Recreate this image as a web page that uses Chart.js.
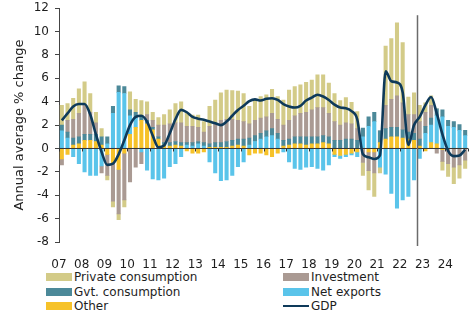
<!DOCTYPE html>
<html lang="en">
<head>
<meta charset="UTF-8">
<title>Contributions to GDP growth</title>
<script src="https://cdn.jsdelivr.net/npm/chart.js@4"></script>
<style>
  body { margin: 0; background: #fff; font-family: "DejaVu Sans", sans-serif; }
  #wrap { position: relative; width: 474px; height: 325px; overflow: hidden; }
  #box { position: absolute; left: 0; top: -5px; width: 474px; height: 273px; }
  .item { position: absolute; display: flex; align-items: center; height: 14px; font-size: 12px; color: #1e1e1e; white-space: nowrap; }
  .sw { width: 26px; height: 8px; margin-right: 2px; }
  .ln { width: 26px; height: 2px; margin-right: 2px; }
</style>
</head>
<body>
<div id="wrap">
  <div id="box"><canvas id="gdpChart"></canvas></div>
  <!-- legend, two columns like the original -->
  <div class="item" style="left:46px;top:270px"><span class="sw" style="background:#d3cb88"></span>Private consumption</div>
  <div class="item" style="left:283px;top:270px"><span class="sw" style="background:#aa9a93"></span>Investment</div>
  <div class="item" style="left:46px;top:285px"><span class="sw" style="background:#4c8999"></span>Gvt. consumption</div>
  <div class="item" style="left:283px;top:285px"><span class="sw" style="background:#5ac4ea"></span>Net exports</div>
  <div class="item" style="left:46px;top:299px"><span class="sw" style="background:#f6c229"></span>Other</div>
  <div class="item" style="left:283px;top:299px"><span class="ln" style="background:#0e3a5a"></span>GDP</div>
</div>

<script>
// years on the axis, one label per Q1
const years = ['07','08','09','10','11','12','13','14','15','16','17','18','19','20','21','22','23','24'];
const quarters = [];
years.forEach(y => { for (let q = 1; q <= 4; q++) quarters.push(y + 'Q' + q); });

// contributions, % points (2007Q1 .. 2024Q4)
const other = [-0.9,-0.5,0.3,0.4, 0.7,0.7,0.6,0.3, -0.5,-1.3,-1.8,-0.4, 1.2,1.8,2.4,2.1, 1.6,0.8,0.3,0.2, 0.3,0.2,-0.2,-0.4,
  -0.4,-0.3,0.1,0.1, 0.1,0.1,0.2,0.3, 0.2,-0.55,-0.4,-0.4, -0.55,-0.7,-0.4,0.2, 0.3,0.4,0.4,0.3, 0.4,0.4,0.5,0.4,
  -0.5,-0.6,-0.5,-0.4, -0.3,0,-0.3,-0.3, 0.5,0.8,1.0,1.0, 0.9,0.8,0.7,0.2, -0.2,0.5,0.4,-0.1, 0,0,0,0];
const netExports = [1.5,0.9,-0.7,-1.3, -2.0,-2.3,-2.3,-1.5, 0.4,3.0,4.8,4.7, 1.6,0.8,-0.3,-1.85, -2.6,-2.7,-2.55,-1.55, -1.3,-0.7,0.3,0.2,
  0.4,0.2,-1.15,-2.1, -2.75,-2.7,-2.3,-1.55, -1.15,0.3,0.6,0.8, 1.0,1.1,0.8,-0.3, -1.15,-1.7,-1.8,-1.6, -1.55,-1.7,-1.85,-1.4,
  -0.2,-0.25,-0.2,-0.15, -0.4,1.0,1.9,2.3, -1.6,-2.2,-3.85,-5.1, -4.4,-4.1,-2.7,-0.85, 1.3,1.5,2.4,2.7, 1.9,1.8,1.55,1.1];
const gvtConsumption = [0.5,0.5,0.6,0.6, 0.5,0.5,0.6,0.7, 0.6,0.6,0.55,0.6, 0.5,0.5,0.4,0.3, 0.2,0.2,0.2,0.3, 0.3,0.3,0.2,0.3,
  0.2,0.3,0.3,0.4, 0.4,0.5,0.5,0.5, 0.6,0.6,0.5,0.5, 0.5,0.6,0.5,0.5, 0.5,0.6,0.6,0.7, 0.6,0.6,0.6,0.6,
  0.7,0.7,0.8,0.8, 0.7,0.75,0.8,0.8, 1.0,0.9,0.8,0.8, 0.7,0.6,0.6,0.6, 0.6,0.6,0.6,0.6, 0.5,0.5,0.5,0.45];
const investment = [-0.5,1.0,1.6,2.0, 2.5,1.9,1.0,-0.6, -1.8,-3.2,-3.8,-4.0, -2.85,-1.6,-1.0,0.5, 0.6,1.0,1.5,1.6, 1.6,1.7,1.4,1.4,
  1.2,0.9,1.5,1.6, 1.9,1.9,1.8,1.6, 1.5,1.2,1.3,1.3, 1.2,1.3,1.2,1.3, 1.6,1.8,2.0,2.1, 2.3,2.5,2.4,2.0,
  1.6,1.3,1.4,1.3, 1.0,-1.2,-1.6,-1.8, 0,2.0,2.4,2.7, 2.3,1.5,1.6,1.5, 1.2,1.1,-0.4,-1.0, -1.3,-1.6,-1.4,-1.0];
const privateConsumption = [1.7,1.45,1.8,2.1, 2.0,1.6,0.9,0.7, -0.4,-0.5,-0.5,-0.6, 1.55,1.1,1.3,1.1, 0.7,0.65,0.9,1.2, 1.65,1.8,1.15,0.95,
  1.05,0.9,1.7,2.05, 2.35,2.5,2.45,2.5, 2.4,1.5,1.8,1.85, 1.9,2.05,1.95,2.15, 2.6,2.5,2.45,2.55, 2.55,2.8,2.8,2.6,
  2.4,2.1,2.15,1.85, 1.45,-1.1,-1.65,-2.0, -0.5,5.05,5.2,6.25, 5.15,1.5,1.85,1.4, 0.8,0.8,0,-0.75, -1.1,-1.4,-1.15,-0.7];
const gdp = [2.4,3.0,3.6,3.8, 3.8,2.9,1.2,-0.3, -1.4,-1.3,-0.5,0.7, 2.0,2.7,2.8,2.3, 1.1,0.1,0.25,1.3, 2.5,3.3,3.1,2.7,
  2.55,2.45,2.3,2.15, 2.0,2.3,2.8,3.3, 3.65,4.05,4.2,4.1, 4.25,4.3,4.15,3.8, 3.6,3.5,3.65,4.1, 4.35,4.6,4.45,4.15,
  3.75,3.5,3.45,3.2, 2.5,-0.5,-0.75,-0.9, -0.6,6.6,5.75,5.65, 4.8,0.3,2.0,2.7, 3.7,4.4,3.0,1.2, -0.2,-0.65,-0.6,-0.1];

// forecast divider sits between 2022Q3 and 2022Q4
const forecastAt = 62.5;

const font = { family: '"DejaVu Sans", sans-serif', size: 12 };

const extras = {
  id: 'extras',
  beforeDatasetDraw(chart, args) {
    if (args.index !== 5) return;
    const { ctx, chartArea, scales: { x, y } } = chart;
    const y0 = y.getPixelForValue(0);
    ctx.save();
    ctx.strokeStyle = '#333';
    ctx.lineWidth = 1;
    ctx.beginPath();
    ctx.moveTo(chartArea.left, y0);
    ctx.lineTo(chartArea.right, y0);
    for (let i = 0; i <= quarters.length; i += 4) {
      const px = Math.round(x.getPixelForValue(i - 0.5)) + 0.5;
      ctx.moveTo(px, y0);
      ctx.lineTo(px, y0 + 3);
    }
    ctx.stroke();
    const vx = Math.round(x.getPixelForValue(forecastAt)) + 0.5;
    ctx.strokeStyle = '#6b6b6b';
    ctx.lineWidth = 1.5;
    ctx.beginPath();
    ctx.moveTo(vx, y.getPixelForValue(11.4));
    ctx.lineTo(vx, chartArea.bottom + 4);
    ctx.stroke();
    ctx.restore();
  }
};

const bar = (label, data, color) => ({
  type: 'bar', label, data, backgroundColor: color, stack: 'c', order: 1,
  barThickness: 3.4, borderWidth: 0
});

new Chart(document.getElementById('gdpChart'), {
  type: 'bar',
  data: {
    labels: quarters,
    datasets: [
      bar('Other', other, '#f6c229'),
      bar('Net exports', netExports, '#5ac4ea'),
      bar('Gvt. consumption', gvtConsumption, '#4c8999'),
      bar('Investment', investment, '#aa9a93'),
      bar('Private consumption', privateConsumption, '#d3cb88'),
      {
        type: 'line', label: 'GDP', data: gdp, stack: 'gdp', order: 0,
        borderColor: '#0e3a5a', borderWidth: 2.6, pointRadius: 0,
        cubicInterpolationMode: 'monotone', fill: false
      }
    ]
  },
  options: {
    responsive: true,
    maintainAspectRatio: false,
    animation: false,
    layout: { padding: { top: 0, right: 6, left: 0, bottom: 0 } },
    plugins: { legend: { display: false }, tooltip: { enabled: false } },
    scales: {
      x: {
        stacked: true,
        grid: { display: false },
        border: { display: false },
        ticks: {
          autoSkip: false, maxRotation: 0, color: '#1e1e1e', font, padding: 8,
          labelOffset: -2.84,
          callback: (v, i) => (i % 4 === 0 ? quarters[i].slice(0, 2) : '')
        },
        afterFit: s => { s.height = 26; }
      },
      y: {
        stacked: true,
        min: -8, max: 12,
        ticks: { stepSize: 2, color: '#1e1e1e', font, padding: 6 },
        grid: { drawOnChartArea: false, tickLength: 4, color: '#444' },
        border: { color: '#444', width: 1 },
        title: { display: true, text: 'Annual average % change', color: '#1e1e1e', font: { family: font.family, size: 13 }, padding: { top: 12, bottom: 0 } },
        afterFit: s => { s.width = 59; }
      }
    }
  },
  plugins: [extras]
});
</script>
</body>
</html>
